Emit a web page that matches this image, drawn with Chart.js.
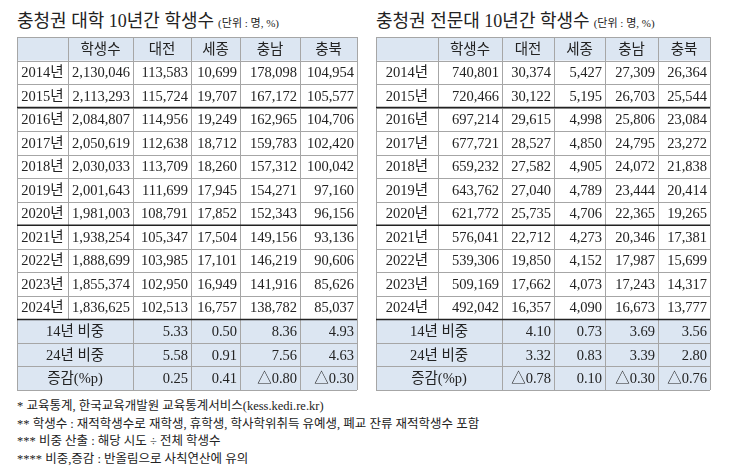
<!DOCTYPE html>
<html>
<head>
<meta charset="utf-8">
<script src="https://cdn.jsdelivr.net/npm/chart.js@4"></script>
<style>
  body { margin: 0; background: #fff; font-family: 'Liberation Serif', 'Noto Sans CJK KR', serif; }
  .title { position: absolute; top: 6px; font-size: 18px; color: #222; white-space: nowrap; }
  .title small { font-size: 11px; margin-left: 4px; }
  .box { position: absolute; top: 36px; height: 355px; }
  .notes { position: absolute; left: 17px; top: 398px; font-size: 12.5px; line-height: 17.5px; color: #222; white-space: nowrap; }
</style>
</head>
<body>
<div class="title" style="left:17px">충청권 대학 10년간 학생수<small>(단위 : 명, %)</small></div>
<div class="title" style="left:376px">충청권 전문대 10년간 학생수<small>(단위 : 명, %)</small></div>
<div class="box" style="left:16px;width:342px"><canvas id="uni"></canvas></div>
<div class="box" style="left:375px;width:336px"><canvas id="col"></canvas></div>
<div class="notes">
  * 교육통계, 한국교육개발원 교육통계서비스(kess.kedi.re.kr)<br>
  ** 학생수 : 재적학생수로 재학생, 휴학생, 학사학위취득 유예생, 폐교 잔류 재적학생수 포함<br>
  *** 비중 산출 : 해당 시도 ÷ 전체 학생수<br>
  **** 비중,증감 : 반올림으로 사칙연산에 유의
</div>
<script>
const columns = ['', '학생수', '대전', '세종', '충남', '충북'];
const years = ['2014년', '2015년', '2016년', '2017년', '2018년', '2019년', '2020년', '2021년', '2022년', '2023년', '2024년'];
const summaryLabels = ['14년 비중', '24년 비중', '증감(%p)'];

// 대학
const uniTotal = [2130046, 2113293, 2084807, 2050619, 2030033, 2001643, 1981003, 1938254, 1888699, 1855374, 1836625];
const uniDaejeon = [113583, 115724, 114956, 112638, 113709, 111699, 108791, 105347, 103985, 102950, 102513];
const uniSejong = [10699, 19707, 19249, 18712, 18260, 17945, 17852, 17504, 17101, 16949, 16757];
const uniChungnam = [178098, 167172, 162965, 159783, 157312, 154271, 152343, 149156, 146219, 141916, 138782];
const uniChungbuk = [104954, 105577, 104706, 102420, 100042, 97160, 96156, 93136, 90606, 85626, 85037];
const uniShare14 = [5.33, 0.50, 8.36, 4.93];
const uniShare24 = [5.58, 0.91, 7.56, 4.63];
const uniChange = [0.25, 0.41, -0.80, -0.30];

// 전문대
const colTotal = [740801, 720466, 697214, 677721, 659232, 643762, 621772, 576041, 539306, 509169, 492042];
const colDaejeon = [30374, 30122, 29615, 28527, 27582, 27040, 25735, 22712, 19850, 17662, 16357];
const colSejong = [5427, 5195, 4998, 4850, 4905, 4789, 4706, 4273, 4152, 4073, 4090];
const colChungnam = [27309, 26703, 25806, 24795, 24072, 23444, 22365, 20346, 17987, 17243, 16673];
const colChungbuk = [26364, 25544, 23084, 23272, 21838, 20414, 19265, 17381, 15699, 14317, 13777];
const colShare14 = [4.10, 0.73, 3.69, 3.56];
const colShare24 = [3.32, 0.83, 3.39, 2.80];
const colChange = [-0.78, 0.10, -0.30, -0.76];

const fmtInt = v => v.toLocaleString('en-US');
const fmtPct = v => (v < 0 ? '△' : '') + Math.abs(v).toFixed(2);

const tablePlugin = {
  id: 'table',
  afterDraw(chart) {
    const { ctx } = chart;
    const xs = chart.scales.x, ys = chart.scales.y;
    const t = chart.options.plugins.table;
    const nCol = columns.length, nRow = ys.getLabels().length;
    const cw = (xs.getPixelForValue(1) - xs.getPixelForValue(0));
    const rh = (ys.getPixelForValue(1) - ys.getPixelForValue(0));
    const L = xs.getPixelForValue(0) - cw / 2, R = L + cw * nCol;
    const T = ys.getPixelForValue(0) - rh / 2, B = T + rh * nRow;
    // column widths: relative weights spread over the x scale's span
    const wsum = t.widths.reduce((a, b) => a + b, 0);
    const edges = [L];
    t.widths.forEach(w => edges.push(edges[edges.length - 1] + (R - L) * w / wsum));
    const colL = c => edges[c], colC = c => (edges[c] + edges[c + 1]) / 2;
    const rowT = r => T + r * rh;
    const nYears = years.length;
    ctx.save();
    ctx.fillStyle = '#dce6f2';
    ctx.fillRect(L, rowT(0), R - L, rh);
    ctx.fillRect(L, rowT(1 + nYears), R - L, rh * 3);
    ctx.strokeStyle = '#a6a6a6';
    ctx.lineWidth = 1;
    for (let r = 0; r <= nRow; r++) {
      const y = Math.round(rowT(r)) + 0.5;
      ctx.beginPath(); ctx.moveTo(L, y); ctx.lineTo(R, y); ctx.stroke();
    }
    for (let c = 0; c <= nCol; c++) {
      const x = Math.round(colL(c)) + 0.5;
      ctx.beginPath();
      if (c === 1) { ctx.moveTo(x, rowT(0)); ctx.lineTo(x, rowT(1 + nYears)); }
      else { ctx.moveTo(x, T); ctx.lineTo(x, B); }
      ctx.stroke();
    }
    ctx.strokeStyle = '#222';
    ctx.lineWidth = 1.5;
    [3, 8, 1 + nYears].forEach(r => {
      ctx.beginPath(); ctx.moveTo(L, rowT(r)); ctx.lineTo(R, rowT(r)); ctx.stroke();
    });
    ctx.fillStyle = '#222';
    ctx.font = "14.5px 'Liberation Serif', 'Noto Sans CJK KR', serif";
    ctx.textBaseline = 'middle';
    const cy = r => ys.getPixelForValue(r) + 1;
    ctx.textAlign = 'center';
    columns.forEach((c, i) => ctx.fillText(c, colC(i), cy(0)));
    years.forEach((y, i) => {
      ctx.textAlign = 'center';
      ctx.fillText(y, colC(0), cy(i + 1));
      ctx.textAlign = 'right';
      t.series.forEach((s, c) => ctx.fillText(fmtInt(s[i]), colL(c + 2) - 3, cy(i + 1)));
    });
    summaryLabels.forEach((lab, i) => {
      const r = 1 + nYears + i;
      ctx.textAlign = 'center';
      ctx.fillText(lab, (colL(0) + colL(2)) / 2, cy(r));
      ctx.textAlign = 'right';
      t.summary[i].forEach((v, c) => ctx.fillText(fmtPct(v), colL(c + 3) - 3, cy(r)));
    });
    ctx.restore();
  }
};

function makeTable(id, series, summary, widths) {
  const rows = ['head', ...years, ...summaryLabels];
  new Chart(document.getElementById(id), {
    type: 'bar',
    data: { labels: columns, datasets: [{ data: [] }] },
    options: {
      responsive: true,
      maintainAspectRatio: false,
      animation: false,
      layout: { padding: 1 },
      events: [],
      scales: {
        x: { type: 'category', labels: columns, offset: true, display: false },
        y: { type: 'category', labels: rows, offset: true, display: false }
      },
      plugins: {
        legend: { display: false },
        tooltip: { enabled: false },
        table: { series, summary, widths }
      }
    },
    plugins: [tablePlugin]
  });
}

makeTable('uni', [uniTotal, uniDaejeon, uniSejong, uniChungnam, uniChungbuk], [uniShare14, uniShare24, uniChange], [51, 65, 58, 49, 60, 57]);
makeTable('col', [colTotal, colDaejeon, colSejong, colChungnam, colChungbuk], [colShare14, colShare24, colChange], [62, 64, 52, 51, 53, 52]);
</script>
</body>
</html>
